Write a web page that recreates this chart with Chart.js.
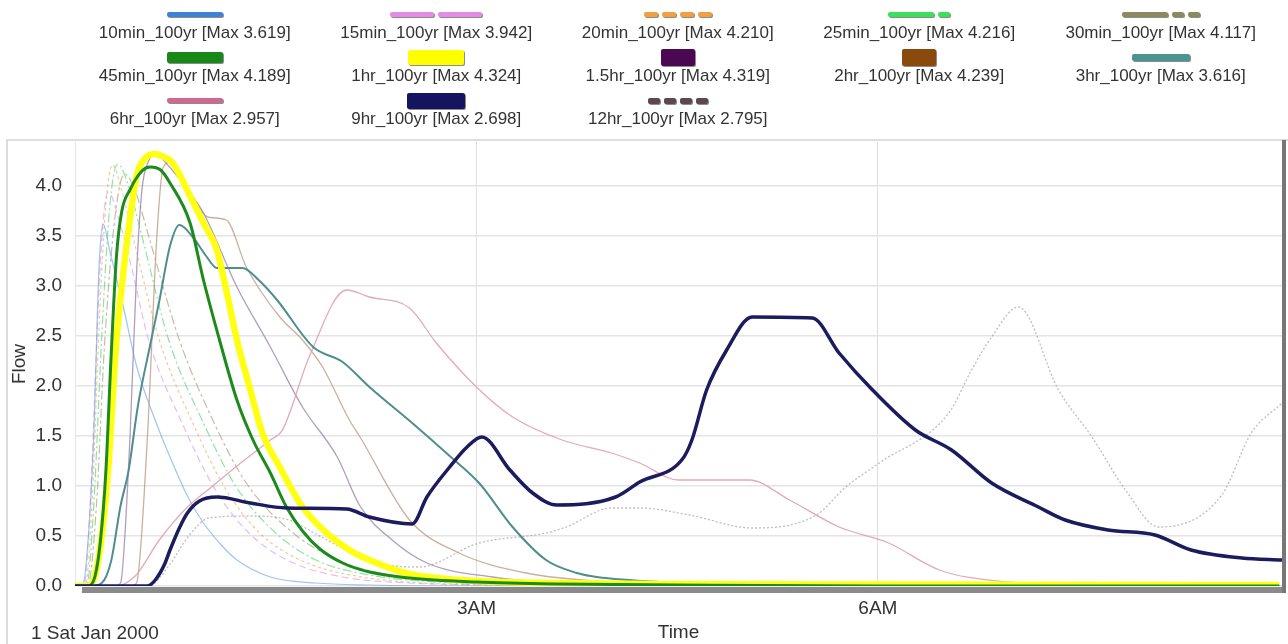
<!DOCTYPE html>
<html>
<head>
<meta charset="utf-8">
<script src="https://cdn.jsdelivr.net/npm/chart.js@4.4.1/dist/chart.umd.min.js"></script>
<style>
  body { margin: 0; background: #fff; font-family: "Liberation Sans", Arial, sans-serif; }
  #wrap { position: relative; width: 1288px; height: 644px; }
  #legend { position: absolute; left: 74px; top: 0; display: grid;
            grid-template-columns: repeat(5, 241.5px); grid-auto-rows: 43px; }
  .item { display: flex; flex-direction: column; align-items: center; }
  .sw { height: 22px; margin-top: 6px; display: flex; align-items: center; }
  .sw span { display: block; margin: 0 2px; border-radius: 2px; box-shadow: 1px 1px 0 rgba(0,0,0,0.45); }
  .lbl { font-size: 17px; line-height: 20px; color: #333; white-space: nowrap; }
  canvas { position: absolute; left: 0; top: 0; }
</style>
</head>
<body>
<div id="wrap">
  <canvas id="flowChart" width="1288" height="644"></canvas>
  <div id="legend"></div>
</div>
<script>
// series names and peak flows shown in the legend
const seriesNames = ["10min_100yr", "15min_100yr", "20min_100yr", "25min_100yr", "30min_100yr",
  "45min_100yr", "1hr_100yr", "1.5hr_100yr", "2hr_100yr", "3hr_100yr",
  "6hr_100yr", "9hr_100yr", "12hr_100yr"];
const seriesMax = ["3.619", "3.942", "4.210", "4.216", "4.117", "4.189", "4.324",
  "4.319", "4.239", "3.616", "2.957", "2.698", "2.795"];

// x tick labels (hours after midnight)
const tickHours = [3, 6];
const tickLabels = ["3AM", "6AM"];

// time (hours) and flow for each storm duration
const t10min = [0, 0.06, 0.1, 0.14, 0.18, 0.21, 0.26, 0.36, 0.46, 0.61, 0.71, 0.84, 0.96, 1.1, 1.21, 1.46, 1.8, 2.2, 3, 9];
const q10min = [0, 0.02, 0.5, 1.5, 3.2, 3.62, 3.35, 2.8, 2.2, 1.62, 1.29, 0.9, 0.63, 0.4, 0.26, 0.09, 0.03, 0.01, 0, 0];

const t15min = [0, 0.07, 0.12, 0.17, 0.21, 0.25, 0.32, 0.42, 0.55, 0.8, 1.05, 1.3, 1.6, 2.0, 2.5, 3.2, 9];
const q15min = [0, 0.03, 1.0, 2.7, 3.65, 3.94, 3.7, 3.2, 2.46, 1.63, 0.96, 0.53, 0.25, 0.09, 0.03, 0.01, 0];

const t20min = [0, 0.08, 0.13, 0.18, 0.23, 0.28, 0.35, 0.45, 0.63, 0.88, 1.13, 1.38, 1.7, 2.1, 2.6, 3.3, 9];
const q20min = [0, 0.03, 0.9, 2.6, 3.8, 4.21, 3.95, 3.4, 2.46, 1.63, 0.96, 0.53, 0.25, 0.1, 0.03, 0.01, 0];

const t25min = [0, 0.09, 0.14, 0.2, 0.26, 0.32, 0.4, 0.5, 0.7, 0.96, 1.2, 1.5, 1.8, 2.2, 2.7, 3.4, 9];
const q25min = [0, 0.03, 0.8, 2.5, 3.8, 4.22, 4.0, 3.5, 2.46, 1.63, 1.0, 0.53, 0.26, 0.11, 0.04, 0.01, 0];

const t30min = [0, 0.1, 0.16, 0.22, 0.3, 0.37, 0.45, 0.55, 0.78, 1.04, 1.28, 1.63, 2.0, 2.4, 2.9, 3.6, 9];
const q30min = [0, 0.03, 0.8, 2.4, 3.7, 4.12, 3.95, 3.5, 2.46, 1.63, 1.03, 0.53, 0.24, 0.1, 0.04, 0.01, 0];

const t45min = [0, 0.1, 0.15, 0.19, 0.23, 0.27, 0.31, 0.35, 0.41, 0.5, 0.56, 0.64, 0.71, 0.86, 0.96, 1.08, 1.21, 1.33, 1.46, 1.58, 1.7, 1.83, 2.0, 2.2, 2.5, 3.0, 3.6, 4.5, 6, 9];
const q45min = [0, 0, 0.1, 0.45, 1.13, 2.3, 3.3, 3.75, 3.96, 4.15, 4.19, 4.16, 4.03, 3.63, 3.06, 2.46, 1.86, 1.46, 1.13, 0.79, 0.55, 0.37, 0.23, 0.14, 0.08, 0.04, 0.02, 0.01, 0, 0];

const t1hr = [0, 0.1, 0.15, 0.2, 0.25, 0.31, 0.35, 0.39, 0.46, 0.52, 0.59, 0.65, 0.73, 0.86, 0.96, 1.06, 1.13, 1.21, 1.31, 1.4, 1.53, 1.7, 1.88, 2.05, 2.2, 2.5, 3.0, 3.6, 4.5, 6, 9];
const q1hr = [0, 0, 0.1, 0.5, 1.2, 2.46, 3.0, 3.46, 4.1, 4.27, 4.32, 4.3, 4.23, 3.9, 3.63, 3.36, 2.96, 2.46, 1.96, 1.53, 1.19, 0.79, 0.53, 0.36, 0.26, 0.12, 0.05, 0.03, 0.02, 0.015, 0.01];

const t1_5hr = [0, 0.3, 0.34, 0.41, 0.46, 0.5, 0.55, 0.6, 0.7, 0.82, 0.96, 1.21, 1.46, 1.7, 1.96, 2.13, 2.37, 2.63, 3.12, 3.6, 4.5, 9];
const q1_5hr = [0, 0, 0.03, 1.46, 3.13, 3.96, 4.25, 4.32, 4.2, 4.0, 3.73, 2.99, 2.39, 1.79, 1.29, 0.8, 0.46, 0.23, 0.09, 0.03, 0.01, 0];

const t2hr = [0, 0.42, 0.46, 0.54, 0.61, 0.66, 0.72, 0.8, 0.9, 0.99, 1.13, 1.28, 1.53, 1.7, 1.85, 2.05, 2.13, 2.5, 2.87, 3.37, 4.0, 5, 9];
const q2hr = [0, 0, 0.03, 1.46, 3.46, 4.19, 4.24, 4.1, 3.85, 3.69, 3.66, 3.19, 2.69, 2.46, 2.19, 1.66, 1.49, 0.66, 0.33, 0.13, 0.04, 0.01, 0];

const t3hr = [0, 0.12, 0.2, 0.27, 0.34, 0.4, 0.47, 0.56, 0.63, 0.71, 0.78, 0.88, 0.98, 1.06, 1.25, 1.38, 1.51, 1.78, 2.0, 2.2, 2.52, 2.8, 3.02, 3.27, 3.52, 3.75, 3.9, 4.39, 5, 6, 9];
const q3hr = [0, 0, 0.03, 0.25, 0.8, 1.15, 1.8, 2.4, 2.85, 3.4, 3.61, 3.49, 3.3, 3.18, 3.18, 3.05, 2.86, 2.39, 2.24, 1.99, 1.63, 1.3, 1.03, 0.59, 0.26, 0.13, 0.09, 0.04, 0.02, 0.01, 0];

const t6hr = [0, 0.3, 0.45, 0.63, 0.84, 1.03, 1.21, 1.46, 1.55, 1.75, 2.03, 2.2, 2.5, 2.7, 3.0, 3.27, 3.64, 4.01, 4.22, 4.51, 5.04, 5.34, 5.71, 6.08, 6.46, 6.96, 7.5, 9];
const q6hr = [0, 0, 0.1, 0.46, 0.79, 1.0, 1.2, 1.46, 1.56, 2.29, 2.96, 2.89, 2.78, 2.43, 1.99, 1.69, 1.46, 1.33, 1.23, 1.06, 1.06, 0.86, 0.59, 0.43, 0.16, 0.04, 0.01, 0];

const t9hr = [0, 0.54, 0.6, 0.67, 0.71, 0.78, 0.84, 0.93, 1.06, 1.31, 1.58, 2.03, 2.2, 2.52, 2.63, 2.8, 2.93, 3.04, 3.25, 3.42, 3.6, 4.04, 4.22, 4.54, 4.61, 4.72, 4.87, 5.06, 5.51, 5.71, 5.96, 6.28, 6.55, 6.85, 7.2, 7.4, 7.72, 8.07, 8.34, 8.72, 9.02];
const q9hr = [0, 0, 0.06, 0.22, 0.36, 0.58, 0.73, 0.85, 0.89, 0.83, 0.78, 0.77, 0.69, 0.62, 0.89, 1.19, 1.39, 1.49, 1.16, 0.93, 0.81, 0.89, 1.04, 1.27, 1.46, 1.96, 2.36, 2.69, 2.68, 2.33, 1.96, 1.56, 1.36, 1.03, 0.79, 0.66, 0.56, 0.51, 0.36, 0.28, 0.26];

const t12hr = [0, 0.55, 0.7, 0.85, 1.0, 1.3, 1.6, 1.8, 2.0, 2.3, 2.57, 3.02, 3.52, 3.67, 4.01, 4.22, 4.59, 5.06, 5.54, 5.76, 6.01, 6.53, 6.7, 6.85, 7.05, 7.35, 7.6, 7.85, 8.1, 8.57, 8.79, 9.02];
const q12hr = [0, 0, 0.2, 0.5, 0.68, 0.7, 0.66, 0.52, 0.38, 0.22, 0.19, 0.43, 0.53, 0.59, 0.78, 0.78, 0.71, 0.58, 0.71, 0.99, 1.23, 1.73, 2.16, 2.49, 2.79, 1.96, 1.49, 0.96, 0.59, 0.91, 1.53, 1.83];

const times = [t10min, t15min, t20min, t25min, t30min, t45min, t1hr, t1_5hr, t2hr, t3hr, t6hr, t9hr, t12hr];
const flows = [q10min, q15min, q20min, q25min, q30min, q45min, q1hr, q1_5hr, q2hr, q3hr, q6hr, q9hr, q12hr];

// line look in the plot
const lineStyles = [
  { color: "rgba(90,160,230,0.6)", width: 1.2, dash: [], order: 9 },
  { color: "rgba(225,150,225,0.65)", width: 1.2, dash: [7, 4], order: 9 },
  { color: "rgba(240,170,90,0.65)", width: 1.2, dash: [3, 3], order: 9 },
  { color: "rgba(80,215,110,0.65)", width: 1.2, dash: [9, 3, 2, 3], order: 9 },
  { color: "rgba(150,150,110,0.6)", width: 1.2, dash: [9, 3, 3, 3], order: 9 },
  { color: "#1d8a1d", width: 3, dash: [], order: 2 },
  { color: "#ffff14", width: 6.5, dash: [], order: 3 },
  { color: "rgba(150,125,165,0.75)", width: 1.3, dash: [], order: 8 },
  { color: "rgba(185,150,125,0.75)", width: 1.3, dash: [], order: 8 },
  { color: "#4f8e8e", width: 2, dash: [], order: 4 },
  { color: "rgba(225,160,180,0.9)", width: 1.3, dash: [], order: 7 },
  { color: "#1b1b5e", width: 3.5, dash: [], order: 1 },
  { color: "rgba(150,145,150,0.6)", width: 1.3, dash: [2, 2], order: 8 }
];

// legend swatches: colour, bar height and segment lengths
const swatchStyles = [
  { color: "#3d82d6", h: 5, segs: [56] },
  { color: "#e58be5", h: 5, segs: [44, 44] },
  { color: "#f0a040", h: 5, segs: [14, 14, 14, 14] },
  { color: "#3de05a", h: 5, segs: [46, 12] },
  { color: "#8c8a62", h: 5, segs: [46, 12, 12] },
  { color: "#188818", h: 11, segs: [56] },
  { color: "#ffff00", h: 15, segs: [56] },
  { color: "#4a0850", h: 17, segs: [34] },
  { color: "#8a4a0c", h: 17, segs: [34] },
  { color: "#4a9494", h: 7, segs: [58] },
  { color: "#d26890", h: 5, segs: [56] },
  { color: "#141460", h: 16, segs: [58] },
  { color: "#5e4850", h: 6, segs: [12, 12, 12, 12] }
];

const axisFont = { family: '"Liberation Sans", Arial, sans-serif', size: 19 };

const legendBox = document.getElementById("legend");
seriesNames.forEach((name, i) => {
  const item = document.createElement("div");
  item.className = "item";
  const sw = document.createElement("div");
  sw.className = "sw";
  swatchStyles[i].segs.forEach(len => {
    const s = document.createElement("span");
    s.style.width = len + "px";
    s.style.height = swatchStyles[i].h + "px";
    s.style.background = swatchStyles[i].color;
    sw.appendChild(s);
  });
  const lbl = document.createElement("div");
  lbl.className = "lbl";
  lbl.textContent = name + " [Max " + seriesMax[i] + "]";
  item.appendChild(sw);
  item.appendChild(lbl);
  legendBox.appendChild(item);
});

const datasets = seriesNames.map((name, i) => ({
  label: name,
  data: times[i].map((x, k) => ({ x: x, y: flows[i][k] })),
  borderColor: lineStyles[i].color,
  borderWidth: lineStyles[i].width,
  borderDash: lineStyles[i].dash,
  order: lineStyles[i].order,
  pointRadius: 0,
  fill: false,
  cubicInterpolationMode: "monotone",
  borderJoinStyle: "round"
}));

const framePlugin = {
  id: "frame",
  beforeDraw(chart) {
    const ctx = chart.ctx;
    ctx.save();
    ctx.strokeStyle = "#d2d2d2";
    ctx.lineWidth = 1.5;
    ctx.beginPath();
    ctx.moveTo(7, 644);
    ctx.lineTo(7, 140);
    ctx.lineTo(1288, 140);
    ctx.stroke();
    ctx.restore();
  },
  afterDraw(chart) {
    const ctx = chart.ctx;
    const a = chart.chartArea;
    ctx.save();
    // thick axis bar and right border
    ctx.fillStyle = "#8a8a8a";
    ctx.fillRect(a.left + 7, a.bottom + 1, a.right - a.left - 5, 6);
    ctx.fillStyle = "#777";
    ctx.fillRect(a.right, 140, 4, a.bottom + 7 - 140);
    ctx.fillStyle = "#333";
    ctx.font = axisFont.size + 'px ' + axisFont.family;
    ctx.textBaseline = "middle";
    ctx.textAlign = "left";
    ctx.fillText("1 Sat Jan 2000", 31, 634);
    ctx.restore();
  }
};

new Chart(document.getElementById("flowChart"), {
  type: "line",
  data: { datasets: datasets },
  plugins: [framePlugin],
  options: {
    responsive: false,
    animation: false,
    devicePixelRatio: 1,
    layout: { padding: { top: 142, left: 8, right: 6, bottom: 0 } },
    plugins: { legend: { display: false }, tooltip: { enabled: false } },
    scales: {
      x: {
        type: "linear",
        min: 0,
        max: 9.02,
        afterFit(scale) { scale.height = 58; },
        afterBuildTicks(scale) { scale.ticks = tickHours.map(v => ({ value: v })); },
        grid: { color: "#dedede", lineWidth: 1, drawTicks: false },
        border: { display: false },
        ticks: {
          padding: 11,
          color: "#333",
          font: axisFont,
          callback: v => tickLabels[tickHours.indexOf(v)]
        },
        title: {
          display: true, text: "Time", color: "#333",
          font: axisFont,
          padding: { top: 0, bottom: 0 }
        }
      },
      y: {
        min: 0,
        max: 4.44,
        afterFit(scale) { scale.width = 67; },
        grid: { color: "#e4e4e4", lineWidth: 1.5, drawTicks: false },
        border: { color: "#e6e6e6", width: 1 },
        ticks: {
          stepSize: 0.5,
          includeBounds: false,
          padding: 13,
          color: "#333",
          font: axisFont,
          callback: v => v.toFixed(1)
        },
        title: {
          display: true, text: "Flow", color: "#333",
          font: axisFont,
          padding: { top: 0, bottom: 0 }
        }
      }
    }
  }
});
</script>
</body>
</html>
